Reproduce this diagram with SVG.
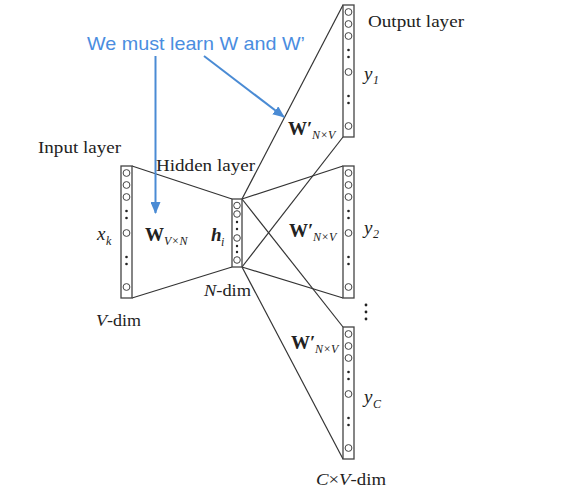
<svg xmlns="http://www.w3.org/2000/svg" xmlns:xlink="http://www.w3.org/1999/xlink" width="563" height="496" viewBox="0 0 563 496">
<style>
.col{fill:#fff;stroke:#444;stroke-width:1.3}
.nd{fill:#fff;stroke:#444;stroke-width:1}
.dt{fill:#222}
.edge{stroke:#333;stroke-width:1.2;fill:none}
.blue{stroke:#4a8bd4;stroke-width:2;fill:none}
.lbl{font-family:"Liberation Serif",serif;font-size:17px;fill:#222}
.var{font-family:"Liberation Serif",serif;font-size:19px;fill:#222}
.it{font-style:italic}
.bd{font-weight:bold}
.sub{font-family:"Liberation Serif",serif;font-size:12px;font-style:italic;fill:#222}
.note{font-family:"Liberation Sans",Arial,sans-serif;font-size:19px;fill:#4a8de0}
</style>
<defs>
<marker id="ah" markerUnits="userSpaceOnUse" markerWidth="12" markerHeight="10" refX="11" refY="5" orient="auto">
<path d="M0,0 L12,5 L0,10 Z" fill="#4a8bd4"/>
</marker>
<g id="col">
<rect class="col" x="-5.5" y="0" width="11" height="132"/>
<circle class="nd" cx="0" cy="7" r="3.4"/>
<circle class="nd" cx="0" cy="19" r="3.4"/>
<circle class="nd" cx="0" cy="31" r="3.4"/>
<circle class="dt" cx="0" cy="45" r="1.3"/>
<circle class="dt" cx="0" cy="52" r="1.3"/>
<circle class="nd" cx="0" cy="67" r="3.4"/>
<circle class="dt" cx="0" cy="91" r="1.3"/>
<circle class="dt" cx="0" cy="98" r="1.3"/>
<circle class="nd" cx="0" cy="121" r="3.4"/>
</g>
</defs>
<rect width="563" height="496" fill="#fff"/>
<g id="connectors">
<line class="edge" x1="132" y1="166" x2="232" y2="199"/>
<line class="edge" x1="132" y1="298" x2="232" y2="267"/>
<line class="edge" x1="242" y1="199" x2="343" y2="5"/>
<line class="edge" x1="242" y1="199" x2="343" y2="166"/>
<line class="edge" x1="242" y1="199" x2="343" y2="327"/>
<line class="edge" x1="242" y1="267" x2="343" y2="137"/>
<line class="edge" x1="242" y1="267" x2="343" y2="298"/>
<line class="edge" x1="242" y1="267" x2="343" y2="459"/>
<line class="blue" x1="155.5" y1="56" x2="155.5" y2="213" marker-end="url(#ah)"/>
<line class="blue" x1="204" y1="56" x2="284" y2="117" marker-end="url(#ah)"/>
</g>
<g id="input">
<use xlink:href="#col" x="126.5" y="166"/>
<text class="lbl" x="38" y="153" textLength="83" lengthAdjust="spacingAndGlyphs">Input layer</text>
<text class="var it" x="97" y="240">x</text><text class="sub" x="106" y="245">k</text>
<text class="lbl" x="96" y="326" textLength="45" lengthAdjust="spacingAndGlyphs"><tspan class="it">V</tspan>-dim</text>
</g>
<g id="hidden">
<rect class="col" x="232" y="199" width="10" height="68"/>
<circle class="nd" cx="237" cy="205.5" r="3.3"/>
<circle class="nd" cx="237" cy="214" r="3.3"/>
<circle class="dt" cx="237" cy="222" r="1.2"/>
<circle class="dt" cx="237" cy="229" r="1.2"/>
<circle class="nd" cx="237" cy="238" r="3.3"/>
<circle class="dt" cx="237" cy="246" r="1.2"/>
<circle class="dt" cx="237" cy="252" r="1.2"/>
<circle class="nd" cx="237" cy="260" r="3.3"/>
<text class="lbl" x="156" y="171" textLength="99" lengthAdjust="spacingAndGlyphs">Hidden layer</text>
<text class="var it bd" x="211" y="241">h</text><text class="sub" x="221" y="246">i</text>
<text class="lbl" x="204" y="296" textLength="47" lengthAdjust="spacingAndGlyphs"><tspan class="it">N</tspan>-dim</text>
<text class="var bd" x="145" y="241">W</text><text class="sub" x="164" y="245" font-size="11">V×N</text>
</g>
<g id="out1">
<use xlink:href="#col" x="348.5" y="5"/>
<text class="lbl" x="368" y="27" textLength="96" lengthAdjust="spacingAndGlyphs">Output layer</text>
<text class="var it" x="364" y="80">y</text><text class="sub" x="373" y="84">1</text>
<text class="var bd" x="288" y="135">W′</text><text class="sub" x="312" y="139" font-size="11">N×V</text>
</g>
<g id="out2">
<use xlink:href="#col" x="348.5" y="166"/>
<text class="var it" x="364" y="234">y</text><text class="sub" x="373" y="238">2</text>
<text class="var bd" x="289" y="237">W′</text><text class="sub" x="313" y="241" font-size="11">N×V</text>
</g>
<g id="dots">
<circle class="dt" cx="366" cy="305" r="1.4"/>
<circle class="dt" cx="366" cy="312" r="1.4"/>
<circle class="dt" cx="366" cy="319" r="1.4"/>
</g>
<g id="out3">
<use xlink:href="#col" x="348.5" y="327"/>
<text class="var it" x="364" y="403">y</text><text class="sub" x="373" y="408">C</text>
<text class="var bd" x="291" y="349">W′</text><text class="sub" x="315" y="353" font-size="11">N×V</text>
<text class="lbl" x="316" y="485" textLength="70" lengthAdjust="spacingAndGlyphs"><tspan class="it">C</tspan>×<tspan class="it">V</tspan>-dim</text>
</g>
<g id="note">
<text class="note" x="87" y="50" textLength="218" lengthAdjust="spacingAndGlyphs">We must learn W and W’</text>
</g>
</svg>
